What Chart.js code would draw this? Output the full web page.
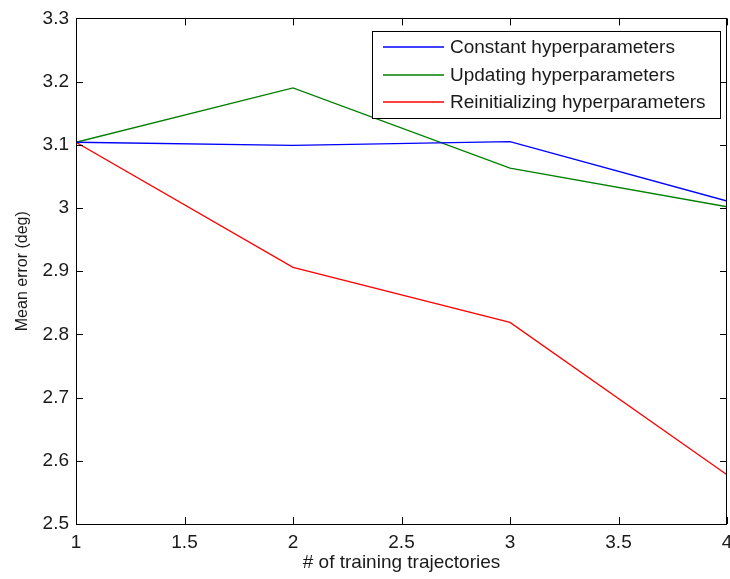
<!DOCTYPE html>
<html>
<head>
<meta charset="utf-8">
<script src="https://cdn.jsdelivr.net/npm/chart.js@4.4.0/dist/chart.umd.min.js"></script>
<style>
  body { margin: 0; background: #fff; }
  #wrap { width: 730px; height: 579px; }
</style>
</head>
<body>
<div id="wrap"><canvas id="errChart"></canvas></div>
<script>
// data
const trajectories = [1, 2, 3, 4];
const constantHyp = [3.104, 3.099, 3.105, 3.011];
const updatingHyp = [3.104, 3.190, 3.063, 3.002];
const reinitHyp = [3.104, 2.906, 2.819, 2.578];

const seriesLabels = ['Constant hyperparameters', 'Updating hyperparameters', 'Reinitializing hyperparameters'];
const seriesColors = ['#0000ff', '#008000', '#ff0000'];

const xTicks = [1, 1.5, 2, 2.5, 3, 3.5, 4];
const yTicks = [2.5, 2.6, 2.7, 2.8, 2.9, 3, 3.1, 3.2, 3.3];

const FONT = "'Liberation Sans', Arial, sans-serif";
const TEXT = '#1a1a1a';

function pts(vals) {
  return trajectories.map((t, i) => ({ x: t, y: vals[i] }));
}

// matlab style box, inward ticks and legend
const matlabBox = {
  id: 'matlabBox',
  afterDraw(chart) {
    const c = chart.ctx;
    const a = chart.chartArea;
    const xs = chart.scales.x, ys = chart.scales.y;
    const tl = 7;
    c.save();
    c.strokeStyle = '#000';
    c.lineWidth = 1;
    c.beginPath();
    xTicks.forEach(v => {
      const px = Math.round(xs.getPixelForValue(v)) + 0.5;
      c.moveTo(px, a.bottom); c.lineTo(px, a.bottom - tl);
      c.moveTo(px, a.top); c.lineTo(px, a.top + tl);
    });
    yTicks.forEach(v => {
      const py = Math.round(ys.getPixelForValue(v)) + 0.5;
      c.moveTo(a.left, py); c.lineTo(a.left + tl, py);
      c.moveTo(a.right, py); c.lineTo(a.right - tl, py);
    });
    c.stroke();
    c.strokeRect(Math.round(a.left) + 0.5, Math.round(a.top) + 0.5,
      Math.round(a.right - a.left) - 1, Math.round(a.bottom - a.top));

    // legend
    const lx = 372, ly = 31, lw = 348, lh = 87;
    c.fillStyle = '#fff';
    c.fillRect(lx, ly, lw, lh);
    c.strokeStyle = '#000';
    c.strokeRect(lx + 0.5, ly + 0.5, lw, lh);
    c.font = '19px ' + FONT;
    c.textBaseline = 'middle';
    chart.data.datasets.forEach((ds, i) => {
      const yy = Math.round(ly + 16 + i * 27.5);
      c.strokeStyle = seriesColors[i];
      c.lineWidth = 1.5;
      c.beginPath();
      c.moveTo(383, yy);
      c.lineTo(444, yy);
      c.stroke();
      c.fillStyle = TEXT;
      c.fillText(ds.label, 450, yy + 1);
    });
    c.restore();
  }
};

const ctx = document.getElementById('errChart');

const errChart = new Chart(ctx, {
  type: 'line',
  data: {
    datasets: [
      { label: seriesLabels[0], data: pts(constantHyp), borderColor: seriesColors[0] },
      { label: seriesLabels[1], data: pts(updatingHyp), borderColor: seriesColors[1] },
      { label: seriesLabels[2], data: pts(reinitHyp), borderColor: seriesColors[2] }
    ]
  },
  options: {
    responsive: true,
    maintainAspectRatio: false,
    animation: false,
    layout: { padding: { top: 17, right: 0, left: 0, bottom: 0 } },
    elements: {
      line: { borderWidth: 1.3, tension: 0, fill: false },
      point: { radius: 0, hoverRadius: 0 }
    },
    plugins: {
      legend: { display: false },
      tooltip: { enabled: false }
    },
    scales: {
      x: {
        type: 'linear',
        min: 1,
        max: 4,
        afterBuildTicks: s => { s.ticks = xTicks.map(v => ({ value: v })); },
        afterFit: s => { s.height = 55; s.paddingRight = 3; s.paddingLeft = 0; },
        grid: { display: false, drawTicks: false },
        border: { display: false },
        ticks: {
          padding: 7,
          color: TEXT,
          font: { family: FONT, size: 19 },
          maxRotation: 0,
          callback: v => String(+(+v).toFixed(2))
        },
        title: {
          display: true,
          text: '# of training trajectories',
          color: TEXT,
          font: { family: FONT, size: 19 },
          padding: { top: 0, bottom: 5 }
        }
      },
      y: {
        min: 2.5,
        max: 3.3,
        afterBuildTicks: s => { s.ticks = yTicks.map(v => ({ value: v })); },
        afterFit: s => { s.width = 76; },
        grid: { display: false, drawTicks: false },
        border: { display: false },
        ticks: {
          padding: 7,
          color: TEXT,
          font: { family: FONT, size: 19 },
          callback: v => String(+(+v).toFixed(2))
        },
        title: {
          display: true,
          text: 'Mean error (deg)',
          color: TEXT,
          font: { family: FONT, size: 16 },
          padding: { top: 13, bottom: 0 }
        }
      }
    }
  },
  plugins: [matlabBox]
});
</script>
</body>
</html>
